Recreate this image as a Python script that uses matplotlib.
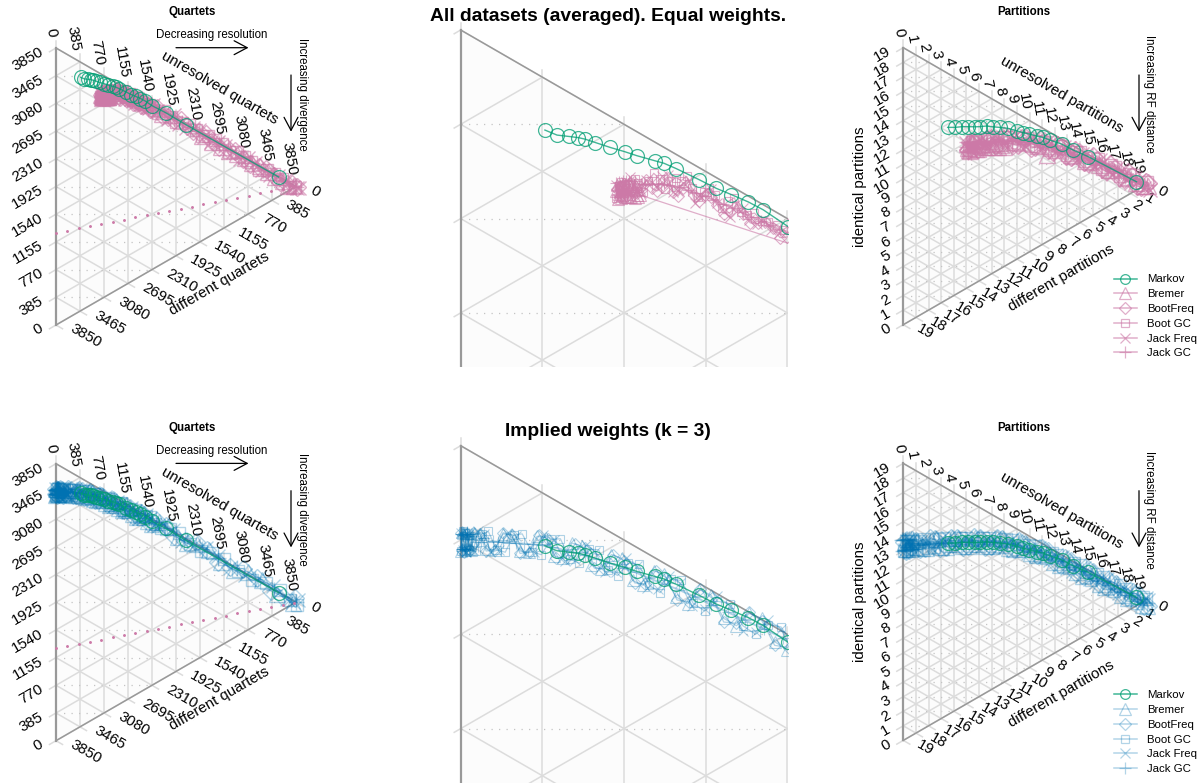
import numpy as np
import matplotlib
matplotlib.use('Agg')
import matplotlib.pyplot as plt
from matplotlib.lines import Line2D

plt.rcParams['font.family'] = ['Liberation Sans', 'DejaVu Sans']

FIG_W, FIG_H = 1203, 784
QUARTET_TOTAL = 3850
PARTITION_TOTAL = 19
SQ3 = np.sqrt(3) / 2

GREEN = '#009E73'
PINK = '#CC79A7'
BLUE = '#0072B2'
GRID = '#DCDCDC'
EDGE = '#999999'

LEGEND_NAMES = ['Markov', 'Bremer', 'BootFreq', 'Boot GC', 'Jack Freq', 'Jack GC']

# Markov is the same under either weighting
markov_q_u = [397, 454, 509, 555, 588, 635, 705, 774, 830, 916, 958, 1015, 1125, 1205, 1276, 1356, 1426, 1544, 1760, 2085, 3572]
markov_q_id = [3243, 3194, 3161, 3133, 3110, 3073, 3018, 2966, 2922, 2858, 2827, 2777, 2676, 2601, 2540, 2470, 2403, 2275, 2071, 1742, 271]
markov_p_u = [3.51, 4.09, 4.62, 5.15, 5.67, 6.07, 6.60, 7.07, 7.65, 8.31, 8.97, 9.50, 9.98, 10.56, 11.08, 11.61, 12.54, 13.46, 14.65, 18.47]
markov_p_id = [11.78, 11.49, 11.27, 11.01, 10.74, 10.55, 10.33, 10.04, 9.71, 9.31, 8.82, 8.42, 8.09, 7.66, 7.31, 6.86, 6.12, 5.25, 4.20, 0.57]

# dotted reference line on the quartet plots
dots_u = [0, 182, 364, 546, 728, 910, 1092, 1274, 1456, 1638, 1820, 2002, 2184, 2366, 2548, 2730, 2912, 3094, 3276, 3458, 3640, 3822]
dots_id = [1283, 1222, 1162, 1101, 1040, 980, 919, 858, 798, 737, 676, 616, 555, 494, 434, 373, 312, 252, 191, 130, 70, 9]

# Quartets, equal weights
qe_bremer_u = [730, 745, 760, 770, 785, 800, 815, 830, 845, 1700, 2350, 2900, 3400, 3820,
               735, 740, 750, 755, 765, 775, 780, 790, 795, 805, 810, 820, 825, 835, 840,
               2500, 2650, 2770, 3030, 3150, 3270, 3520, 3650, 3730]
qe_bremer_id = [2826, 2808, 2795, 2815, 2780, 2770, 2790, 2760, 2754, 2085, 1455, 930, 425, 20,
                2850, 2790, 2840, 2785, 2835, 2780, 2830, 2775, 2825, 2765, 2815, 2755, 2800, 2750, 2780,
                1300, 1150, 1030, 810, 680, 570, 300, 180, 70]
qe_bootfreq_u = [760, 800, 850, 900, 950, 1000, 1050, 1100, 1150, 1210, 1270, 1330, 1400, 1470, 1540, 1700, 1900, 2100, 2300, 2500, 2750, 3000, 3250, 3500, 3700, 3860,
                 735, 750, 770, 785, 815, 830, 875, 925, 975, 1025, 1075, 1125, 1180, 1240, 1300, 1365, 1435, 1505,
                 1620, 1800, 2000, 2200, 2400, 2620, 2870, 3120, 3370, 3600, 3780]
qe_bootfreq_id = [2805, 2790, 2770, 2755, 2735, 2690, 2680, 2625, 2600, 2530, 2470, 2435, 2360, 2305, 2235, 2075, 1900, 1710, 1530, 1310, 1090, 805, 565, 315, 115, -15,
                  2835, 2795, 2835, 2780, 2820, 2770, 2800, 2730, 2760, 2660, 2670, 2590, 2580, 2480, 2480, 2380, 2350, 2250,
                  2210, 1990, 1850, 1590, 1450, 1170, 980, 680, 480, 190, 70]
qe_bootgc_u = [745, 790, 835, 885, 940, 990, 1040, 1090, 1145, 1200, 1260, 1320, 1385, 1450, 1520, 1640, 1840, 2030, 2240, 2440, 2660, 2900, 3130, 3380, 3620, 3840,
               730, 755, 770, 805, 820, 860, 910, 965, 1015, 1065, 1120, 1170, 1230, 1290, 1350, 1420, 1490,
               1580, 1740, 1930, 2130, 2340, 2550, 2780, 3020, 3260, 3500, 3740]
qe_bootgc_id = [2840, 2825, 2808, 2790, 2770, 2740, 2715, 2660, 2615, 2575, 2520, 2445, 2410, 2340, 2275, 2130, 1965, 1790, 1590, 1410, 1190, 950, 695, 465, 215, 5,
                2800, 2850, 2785, 2770, 2830, 2760, 2810, 2720, 2740, 2720, 2610, 2620, 2510, 2520, 2420, 2360, 2310,
                2200, 2110, 1860, 1720, 1450, 1300, 1010, 830, 530, 350, 50]
qe_jackfreq_u = [740, 780, 825, 875, 925, 975, 1025, 1075, 1130, 1180, 1240, 1300, 1360, 1430, 1500, 1620, 1800, 1980, 2200, 2380, 2600, 2840, 3080, 3300, 3560, 3810, 3900,
                 733, 760, 800, 850, 900, 950, 1000, 1050, 1105, 1155, 1210, 1270, 1330, 1395, 1465,
                 1560, 1710, 1890, 2090, 2290, 2490, 2720, 2960, 3190, 3430, 3680, 3860]
qe_jackfreq_id = [2790, 2840, 2775, 2800, 2745, 2770, 2680, 2700, 2600, 2610, 2490, 2490, 2395, 2360, 2270, 2170, 1965, 1810, 1640, 1420, 1250, 985, 780, 510, 290, 15, -40,
                  2850, 2810, 2850, 2760, 2780, 2780, 2690, 2700, 2590, 2620, 2540, 2450, 2460, 2360, 2300,
                  2280, 2090, 1970, 1690, 1560, 1300, 1130, 830, 660, 370, 170, -20]
qe_jackgc_u = [735, 748, 760, 775, 790, 810, 850, 900, 960, 1030, 1110, 1190, 1280, 1370, 1460, 1550, 1700, 1900, 2150, 2450, 2800, 3150, 3500, 3800,
               733, 740, 745, 752, 757, 765, 770, 780, 785, 795, 800, 820, 830, 870, 930, 995, 1070, 1150, 1235, 1325, 1415, 1505,
               1620, 1800, 2020, 2300, 2620, 2970, 3320, 3650, 3850]
qe_jackgc_id = [2831, 2800, 2840, 2790, 2825, 2785, 2795, 2770, 2740, 2693, 2629, 2561, 2484, 2402, 2322, 2242, 2098, 1919, 1677, 1378, 1029, 680, 331, 32,
                2860, 2805, 2855, 2840, 2790, 2850, 2795, 2845, 2785, 2835, 2780, 2825, 2775, 2785, 2755, 2717, 2660, 2596, 2522, 2443, 2362, 2282,
                2172, 2010, 1800, 1520, 1200, 850, 500, 170, 0]

# Quartets, implied weights
qi_bremer_u = [5, 40, 90, 160, 240, 320, 400, 480, 570, 660, 760, 860, 960, 1070, 1180, 1300, 1420, 1540, 1800, 2100, 2450, 2850, 3300, 3800,
               0, 10, 20, 30, 50, 65, 125, 200, 280, 360, 440, 525, 615, 710, 810, 910, 1015, 1125, 1240, 1360, 1480, 1650, 1950, 2270, 2650, 3080, 3550]
qi_bremer_id = [3495, 3410, 3445, 3345, 3365, 3255, 3275, 3150, 3155, 3015, 3010, 2850, 2845, 2670, 2650, 2465, 2435, 2245, 2075, 1695, 1430, 950, 590, 15,
                3420, 3490, 3415, 3480, 3400, 3460, 3365, 3390, 3280, 3300, 3180, 3190, 3055, 3050, 2895, 2885, 2725, 2700, 2525, 2485, 2310, 2220, 1850, 1595, 1155, 805, 270]
qi_bootfreq_u = [15, 60, 120, 200, 280, 370, 450, 540, 630, 720, 820, 920, 1020, 1130, 1240, 1360, 1480, 1620, 1900, 2250, 2600, 3000, 3450, 3840,
                 0, 5, 30, 45, 90, 160, 240, 325, 410, 495, 585, 675, 770, 870, 970, 1075, 1185, 1300, 1420, 1550, 1760, 2070, 2420, 2800, 3220, 3650]
qi_bootfreq_id = [3410, 3465, 3360, 3395, 3270, 3300, 3165, 3180, 3035, 3045, 2880, 2880, 2710, 2700, 2510, 2490, 2295, 2250, 1890, 1630, 1190, 890, 355, 60,
                  3495, 3420, 3475, 3400, 3445, 3345, 3365, 3255, 3265, 3145, 3140, 3010, 2995, 2850, 2825, 2675, 2635, 2475, 2425, 2250, 2105, 1735, 1445, 1010, 655, 175]
qi_bootgc_u = [10, 70, 130, 210, 290, 380, 470, 560, 650, 740, 840, 940, 1040, 1150, 1270, 1390, 1510, 1680, 1980, 2320, 2700, 3150, 3600, 3860,
               0, 25, 40, 100, 170, 250, 335, 425, 515, 605, 695, 790, 890, 990, 1095, 1210, 1330, 1450, 1590, 1830, 2150, 2500, 2920, 3370, 3750]
qi_bootgc_id = [3495, 3385, 3435, 3310, 3345, 3215, 3235, 3090, 3100, 2950, 2945, 2780, 2780, 2600, 2570, 2385, 2355, 2115, 1895, 1475, 1180, 655, 295, -40,
                3420, 3480, 3405, 3440, 3340, 3360, 3250, 3255, 3130, 3125, 2995, 2975, 2835, 2810, 2660, 2610, 2450, 2395, 2215, 2030, 1660, 1365, 895, 510, 80]
qi_jackfreq_u = [25, 80, 140, 220, 300, 390, 490, 590, 680, 780, 880, 980, 1090, 1210, 1330, 1450, 1570, 1720, 2030, 2400, 2800, 3250, 3700, 3880,
                 0, 10, 45, 60, 110, 180, 260, 345, 440, 540, 635, 730, 830, 930, 1035, 1150, 1270, 1390, 1510, 1640, 1880, 2200, 2600, 3030, 3480, 3800]
qi_jackfreq_id = [3405, 3460, 3345, 3385, 3260, 3290, 3135, 3150, 2995, 3000, 2830, 2830, 2650, 2630, 2430, 2415, 2215, 2155, 1760, 1480, 1000, 640, 115, 15,
                  3495, 3420, 3470, 3395, 3435, 3335, 3350, 3245, 3245, 3115, 3100, 2970, 2945, 2800, 2770, 2610, 2560, 2395, 2345, 2160, 1985, 1605, 1268, 782, 405, 25]
qi_jackgc_u = [0, 5, 10, 15, 20, 25, 35, 45, 60, 80, 110, 150, 200, 260, 340, 430, 530, 640, 760, 890, 1030, 1180, 1340, 1520, 1750, 2100, 2600, 3200, 3850,
               2, 4, 7, 8, 12, 13, 17, 18, 22, 23, 28, 30, 32, 38, 40, 42, 48, 50, 55,
               70, 95, 130, 175, 230, 300, 385, 480, 585, 700, 825, 960, 1105, 1260, 1430, 1630, 1920, 2350, 2900, 3500]
qi_jackgc_id = [3490, 3425, 3480, 3420, 3470, 3415, 3465, 3410, 3450, 3400, 3420, 3385, 3356, 3322, 3277, 3221, 3150, 3068, 2972, 2863, 2746, 2611, 2467, 2305, 2084, 1735, 1238, 646, 7,
                3490, 3420, 3485, 3425, 3480, 3420, 3485, 3415, 3480, 3415, 3475, 3410, 3480, 3405, 3470, 3400, 3465, 3405, 3460,
                3423, 3411, 3393, 3370, 3339, 3300, 3251, 3186, 3110, 3021, 2920, 2805, 2680, 2540, 2386, 2200, 1915, 1487, 945, 350]

# Partitions, equal weights
pe_bremer_u = [5.1, 5.3, 5.6, 5.9, 6.2, 6.6, 7.0, 7.5, 8.0, 11.35, 13.3, 15.5, 17.8, 19.1,
               5.05, 5.2, 5.45, 5.75, 6.05, 6.4, 6.8, 7.2, 7.75, 14.4, 16.6, 18.4, 19.4]
pe_bremer_id = [9.6, 9.25, 9.5, 9.1, 9.3, 8.9, 8.9, 8.45, 8.2, 5.97, 5.0, 3.2, 1.2, -0.05,
                9.9, 9.35, 9.75, 9.2, 9.55, 9.0, 9.2, 8.6, 8.45, 4.0, 2.3, 0.55, -0.2]
pe_bootfreq_u = [5.3, 5.9, 6.6, 7.3, 8.0, 8.7, 9.4, 10.1, 10.8, 11.5, 12.2, 12.9, 13.6, 14.3, 15.0, 15.7, 16.4, 17.1, 17.8, 18.5, 19.2,
                 5.1, 5.6, 6.25, 6.95, 7.65, 8.35, 9.05, 9.75, 10.45, 11.15, 11.85, 12.55, 13.25, 13.95, 14.65, 15.35, 16.05, 16.75, 17.45, 18.15, 18.85, 19.4]
pe_bootfreq_id = [9.85, 9.1, 9.45, 8.65, 8.95, 8.0, 8.1, 7.1, 7.35, 6.2, 6.25, 5.1, 5.2, 4.0, 4.05, 2.8, 2.85, 1.55, 1.55, 0.25, 0.2,
                  9.4, 9.75, 9.05, 9.35, 8.5, 8.7, 7.8, 7.9, 6.95, 7.0, 5.95, 5.95, 4.9, 4.85, 3.75, 3.65, 2.55, 2.4, 1.3, 1.1, 0.02, 0.0]
pe_bootgc_u = [5.2, 5.7, 6.3, 7.0, 7.7, 8.4, 9.1, 9.8, 10.5, 11.2, 11.9, 12.6, 13.3, 14.0, 14.7, 15.4, 16.1, 16.8, 17.5, 18.2, 18.9,
               5.45, 6.0, 6.65, 7.35, 8.05, 8.75, 9.45, 10.15, 10.85, 11.55, 12.25, 12.95, 13.65, 14.35, 15.05, 15.75, 16.45, 17.15, 17.85, 18.55, 19.3]
pe_bootgc_id = [9.4, 9.75, 9.05, 9.35, 8.5, 8.7, 7.75, 7.9, 6.9, 6.95, 5.9, 5.95, 4.8, 4.85, 3.7, 3.65, 2.45, 2.45, 1.2, 1.15, -0.1,
                9.8, 9.15, 9.4, 8.65, 8.85, 8.0, 8.1, 7.15, 7.2, 6.22, 6.15, 5.15, 5.05, 4.05, 3.9, 2.8, 2.7, 1.6, 1.4, 0.3, 0.12]
pe_jackfreq_u = [5.0, 5.5, 6.1, 6.7, 7.4, 8.1, 8.8, 9.6, 10.3, 11.0, 11.7, 12.4, 13.1, 13.8, 14.5, 15.2, 15.9, 16.6, 17.3, 18.0, 18.7, 19.5,
                 5.25, 5.8, 6.4, 7.05, 7.75, 8.45, 9.2, 9.95, 10.65, 11.35, 12.05, 12.75, 13.45, 14.15, 14.85, 15.55, 16.25, 16.95, 17.65, 18.35, 19.1]
pe_jackfreq_id = [9.95, 9.3, 9.65, 8.9, 9.2, 8.3, 8.5, 7.45, 7.6, 6.6, 6.6, 5.55, 5.55, 4.45, 4.4, 3.3, 3.2, 2.05, 1.9, 0.75, 0.6, -0.5,
                  9.35, 9.7, 9.0, 9.3, 8.45, 8.65, 7.75, 7.75, 6.85, 6.85, 5.8, 5.8, 4.75, 4.65, 3.6, 3.5, 2.4, 2.25, 1.1, 0.9, -0.2]
pe_jackgc_u = [5.02, 5.1, 5.2, 5.35, 5.5, 5.7, 6.0, 6.4, 6.9, 7.5, 8.2, 9.0, 9.9, 10.8, 11.7, 12.6, 13.5, 14.4, 15.3, 16.2, 17.1, 18.0, 18.9,
               5.05, 5.15, 5.25, 5.3, 5.4, 5.45, 5.6, 5.8, 6.2, 6.65, 7.2, 7.85, 8.6, 9.45, 10.35, 11.25, 12.15, 13.05, 13.95, 14.85, 15.75, 16.65, 17.55, 18.45, 19.3]
pe_jackgc_id = [9.7, 9.3, 9.85, 9.2, 9.7, 9.25, 9.38, 9.24, 9.09, 8.84, 8.5, 8.08, 7.55, 7.0, 6.35, 5.65, 4.95, 4.2, 3.45, 2.65, 1.85, 1.0, 0.2,
                10.0, 9.35, 9.9, 9.3, 9.8, 9.3, 9.75, 9.2, 9.3, 9.18, 8.97, 8.67, 8.33, 7.82, 7.28, 6.67, 6.0, 5.3, 4.58, 3.85, 3.05, 2.25, 1.45, 0.6, -0.1]

# Partitions, implied weights
pi_bremer_u = [0.1, 0.5, 1.1, 1.8, 2.6, 3.4, 4.3, 5.2, 6.1, 7.0, 7.9, 8.8, 9.7, 10.6, 11.5, 12.4, 13.3, 14.2, 15.1, 16.0, 16.9, 17.8, 18.7, 19.3,
               0.3, 0.8, 1.45, 2.2, 3.0, 3.85, 4.75, 5.65, 6.55, 7.45, 8.35, 9.25, 10.15, 11.05, 11.95, 12.85, 13.75, 14.65, 15.55, 16.45, 17.35, 18.25, 19.0]
pi_bremer_id = [13.55, 12.9, 13.1, 12.3, 12.5, 11.6, 11.75, 10.75, 10.85, 9.85, 9.85, 8.75, 8.65, 7.4, 7.2, 5.85, 5.6, 4.2, 3.9, 2.55, 2.25, 0.85, 0.55, -0.4,
                12.95, 13.28, 12.45, 12.67, 11.78, 11.93, 10.98, 11.08, 10.08, 10.13, 9.05, 8.98, 7.76, 7.63, 6.28, 6.03, 4.65, 4.38, 2.98, 2.68, 1.3, 1.0, -0.2]
pi_bootfreq_u = [0.2, 0.7, 1.3, 2.1, 2.9, 3.8, 4.7, 5.6, 6.5, 7.4, 8.3, 9.2, 10.1, 11.0, 11.9, 12.8, 13.7, 14.6, 15.5, 16.4, 17.3, 18.2, 19.1,
                 0.05, 0.45, 1.0, 1.7, 2.5, 3.35, 4.25, 5.15, 6.05, 6.95, 7.85, 8.75, 9.65, 10.55, 11.45, 12.35, 13.25, 14.15, 15.05, 15.95, 16.85, 17.75, 18.65, 19.4]
pi_bootfreq_id = [12.9, 13.4, 12.45, 12.8, 11.75, 12.0, 10.95, 11.15, 10.05, 10.2, 9.05, 9.1, 7.75, 7.7, 6.3, 6.1, 4.65, 4.45, 3.0, 2.75, 1.35, 1.05, -0.3,
                  13.6, 12.85, 13.2, 12.33, 12.55, 11.6, 11.75, 10.78, 10.88, 9.85, 9.9, 8.78, 8.68, 7.45, 7.28, 5.9, 5.65, 4.28, 4.0, 2.6, 2.32, 0.93, 0.65, -0.5]
pi_bootgc_u = [0.05, 0.4, 1.0, 1.6, 2.4, 3.2, 4.1, 5.0, 5.9, 6.8, 7.7, 8.6, 9.5, 10.4, 11.3, 12.2, 13.1, 14.0, 14.9, 15.8, 16.7, 17.6, 18.5, 19.2,
               0.2, 0.65, 1.3, 2.0, 2.8, 3.65, 4.55, 5.45, 6.35, 7.25, 8.15, 9.05, 9.95, 10.85, 11.75, 12.65, 13.55, 14.45, 15.35, 16.25, 17.15, 18.05, 18.95]
pi_bootgc_id = [13.0, 13.5, 12.6, 13.0, 12.05, 12.25, 11.3, 11.4, 10.4, 10.5, 9.4, 9.45, 8.25, 8.15, 6.85, 6.6, 5.25, 5.0, 3.55, 3.3, 1.9, 1.6, 0.2, 0.1,
                13.55, 12.8, 13.05, 12.22, 12.4, 11.5, 11.6, 10.63, 10.72, 9.7, 9.72, 8.58, 8.45, 7.22, 7.0, 5.63, 5.38, 3.98, 3.72, 2.33, 2.05, 0.65, 0.35]
pi_jackfreq_u = [0.3, 0.8, 1.5, 2.3, 3.1, 4.0, 4.9, 5.8, 6.7, 7.6, 8.5, 9.4, 10.3, 11.2, 12.1, 13.0, 13.9, 14.8, 15.7, 16.6, 17.5, 18.4, 19.4,
                 0.1, 0.55, 1.2, 1.95, 2.75, 3.55, 4.45, 5.35, 6.25, 7.15, 8.05, 8.95, 9.85, 10.75, 11.65, 12.55, 13.45, 14.35, 15.25, 16.15, 17.05, 17.95, 18.85, 19.2]
pi_jackfreq_id = [13.55, 12.7, 13.0, 12.05, 12.3, 11.3, 11.45, 10.45, 10.55, 9.5, 9.5, 8.3, 8.2, 6.95, 6.65, 5.35, 5.05, 3.7, 3.35, 2.0, 1.7, 0.35, -0.05,
                  12.98, 13.38, 12.55, 12.78, 11.88, 12.08, 11.1, 11.22, 10.22, 10.3, 9.22, 9.2, 7.96, 7.85, 6.52, 6.28, 4.9, 4.63, 3.23, 2.98, 1.58, 1.3, -0.08, 0.15]
pi_jackgc_u = [-0.1, 0.05, 0.15, 0.25, 0.35, 0.45, 0.55, 0.7, 0.9, 1.2, 1.7, 2.4, 3.3, 4.3, 5.4, 6.5, 7.6, 8.7, 9.8, 10.9, 12.0, 13.1, 14.2, 15.3, 16.4, 17.5, 18.6, 19.1,
               -0.05, 0.0, 0.1, 0.12, 0.2, 0.22, 0.3, 0.32, 0.4, 0.42, 0.5, 0.6, 0.65, 0.75, 0.8, 1.0, 1.45, 2.05, 2.85, 3.8, 4.85, 5.95, 7.05, 8.15, 9.25, 10.35, 11.45, 12.55, 13.65, 14.75, 15.85, 16.95, 18.05, 19.3]
pi_jackgc_id = [13.8, 13.0, 13.7, 12.9, 13.6, 12.85, 13.4, 12.9, 13.1, 12.83, 12.61, 12.31, 11.92, 11.45, 10.93, 10.37, 9.78, 9.1, 8.3, 7.47, 6.5, 5.51, 4.5, 3.5, 2.46, 1.43, 0.4, -0.05,
                13.0, 13.75, 13.0, 13.7, 12.95, 13.7, 12.9, 13.65, 12.9, 13.6, 12.85, 13.5, 12.8, 13.4, 12.75, 12.91, 12.72, 12.45, 12.1, 11.67, 11.2, 10.66, 10.08, 9.45, 8.72, 7.9, 7.0, 6.05, 5.05, 4.0, 3.0, 1.95, 0.95, -0.2]

SERIES_STYLE = [('^', 8.5), ('D', 6.4), ('s', 6), ('x', 7), ('+', 8.5)]

qe_series = [(qe_bremer_u, qe_bremer_id), (qe_bootfreq_u, qe_bootfreq_id), (qe_bootgc_u, qe_bootgc_id),
             (qe_jackfreq_u, qe_jackfreq_id), (qe_jackgc_u, qe_jackgc_id)]
qi_series = [(qi_bremer_u, qi_bremer_id), (qi_bootfreq_u, qi_bootfreq_id), (qi_bootgc_u, qi_bootgc_id),
             (qi_jackfreq_u, qi_jackfreq_id), (qi_jackgc_u, qi_jackgc_id)]
pe_series = [(pe_bremer_u, pe_bremer_id), (pe_bootfreq_u, pe_bootfreq_id), (pe_bootgc_u, pe_bootgc_id),
             (pe_jackfreq_u, pe_jackfreq_id), (pe_jackgc_u, pe_jackgc_id)]
pi_series = [(pi_bremer_u, pi_bremer_id), (pi_bootfreq_u, pi_bootfreq_id), (pi_bootgc_u, pi_bootgc_id),
             (pi_jackfreq_u, pi_jackfreq_id), (pi_jackgc_u, pi_jackgc_id)]


def to_xy(unresolved, identical, total):
    c = np.asarray(unresolved, dtype=float) / total
    a = np.asarray(identical, dtype=float) / total
    return c * SQ3, a + c / 2


def make_axes(fig, vx, vy, side, box):
    left, top, right, bottom = box
    ax = fig.add_axes([left / FIG_W, 1 - bottom / FIG_H, (right - left) / FIG_W, (bottom - top) / FIG_H])
    ax.set_xlim((left - vx) / side, (right - vx) / side)
    ax.set_ylim(1 - (bottom - vy) / side, 1 - (top - vy) / side)
    ax.axis('off')
    ax.patch.set_alpha(0)
    return ax


def draw_frame(ax, n, side):
    tick = 7.5 / side
    ax.fill([0, 0, SQ3], [0, 1, 0.5], color='#FCFCFC', lw=0, zorder=1)
    for k in range(n + 1):
        f = k / n
        # each family runs past one edge to make the tick
        ax.plot([f * SQ3, f * SQ3], [f / 2, 1 - f / 2 + tick], color=GRID, lw=1.1, zorder=2)
        ax.plot([-tick * SQ3, (1 - f) * SQ3], [f - tick / 2, f + (1 - f) / 2], color=GRID, lw=1.1, zorder=2)
        ax.plot([0, (1 - f + tick) * SQ3], [1 - f, (1 - f - tick) / 2], color=GRID, lw=1.1, zorder=2)
        x_end = (1 - f) * SQ3 * 2 if f >= 0.5 else f * SQ3 * 2
        ax.plot([0, x_end], [f, f], color='#C4C4C4', lw=0.9, ls=(0, (1, 5)), zorder=2)
    ax.plot([0, SQ3, 0], [1, 0.5, 0], color=EDGE, lw=1.1, zorder=3)
    ax.plot([0, 0], [0, 1], color=EDGE, lw=1.6, zorder=3)


def draw_series(ax, total, series, color, alpha, markov_u, markov_id, mew=0.8, scale=1.0, dots=False):
    for (u, ident), (marker, size) in zip(series, SERIES_STYLE):
        order = np.argsort(u)
        x, y = to_xy(np.array(u)[order], np.array(ident)[order], total)
        width = 1.4 if marker == '+' else 0.9
        ax.plot(x, y, color=color, alpha=alpha, lw=width, marker=marker, ms=size * scale, mew=mew, mfc='none', zorder=4)
    x, y = to_xy(markov_u, markov_id, total)
    ax.plot(x, y, color=GREEN, alpha=0.75, lw=1.0, marker='o', ms=10, mew=0.9, mfc='none', zorder=5)
    if dots:
        x, y = to_xy(dots_u, dots_id, total)
        ax.plot(x, y, ls='none', marker='o', ms=2.1, mew=0, color=PINK, zorder=5)


def draw_labels(ax, n, step):
    fs = 10.8
    for k in range(n + 1):
        f = k / n
        text = str(k * step)
        ax.annotate(text, (0, f), xytext=(-14 * .72, -2.7 * .72), textcoords='offset points', zorder=1.5,
                    rotation=30, rotation_mode='anchor', ha='right', va='center', fontsize=fs, annotation_clip=False)
        ax.annotate(text, (f * SQ3, 1 - f / 2), xytext=(-4 * .72, 11 * .72), textcoords='offset points', zorder=1.5,
                    rotation=-80, rotation_mode='anchor', ha='right', va='center', fontsize=fs, annotation_clip=False)
        ax.annotate(text, ((1 - f) * SQ3, (1 - f) / 2), xytext=(15 * .72, -3 * .72), textcoords='offset points', zorder=1.5,
                    rotation=-30, rotation_mode='anchor', ha='left', va='center', fontsize=fs, annotation_clip=False)


def draw_legend(ax, color, alpha, left, top):
    handles = [Line2D([], [], color=GREEN, alpha=0.75, lw=1.1, marker='o', ms=7, mew=0.9, mfc='none')]
    for marker, size in SERIES_STYLE:
        handles.append(Line2D([], [], color=color, alpha=alpha, lw=1.1, marker=marker, ms=size, mew=0.9, mfc='none'))
    ax.legend(handles, LEGEND_NAMES, loc='upper left', frameon=False, fontsize=8.2,
              bbox_to_anchor=(left / FIG_W, 1 - top / FIG_H), bbox_transform=ax.figure.transFigure,
              borderpad=0, borderaxespad=0, handlelength=2.0, handletextpad=0.9, labelspacing=0.42)


def main():
    fig = plt.figure(figsize=(FIG_W / 100, FIG_H / 100), dpi=100)
    overlay = fig.add_axes([0, 0, 1, 1])
    overlay.set_xlim(0, FIG_W)
    overlay.set_ylim(FIG_H, 0)
    overlay.axis('off')

    rows = [
        (0.0, qe_series, pe_series, PINK, 0.6, 'All datasets (averaged). Equal weights.', 16),
        (415.7, qi_series, pi_series, BLUE, 0.3, 'Implied weights (k = 3)', 431.7),
    ]
    for dy, q_series, p_series, color, alpha, title, title_y in rows:
        # left: whole quartet triangle
        ax = make_axes(fig, 56, 48 + dy, 277, (0, dy, 340, dy + 368))
        draw_frame(ax, 10, 277)
        draw_labels(ax, 10, 385)
        draw_series(ax, QUARTET_TOTAL, q_series, color, alpha, markov_q_u, markov_q_id, mew=1.0, scale=1.4, dots=True)

        # middle: close-up of the same quartets
        ax = make_axes(fig, 460.7, 30 + dy, 943, (452, 20 + dy, 787.5, 367 + dy))
        draw_frame(ax, 10, 943)
        draw_series(ax, QUARTET_TOTAL, q_series, color, alpha, markov_q_u, markov_q_id)

        # right: partitions
        ax = make_axes(fig, 903.3, 47.7 + dy, 277, (845, dy, 1203, dy + 368))
        draw_frame(ax, PARTITION_TOTAL, 277)
        draw_labels(ax, PARTITION_TOTAL, 1)
        draw_series(ax, PARTITION_TOTAL, p_series, color, alpha, markov_p_u, markov_p_id, mew=1.0, scale=1.4)
        draw_legend(ax, color, alpha, 1114, 274.5 + dy)

        overlay.text(608, title_y, title, fontsize=13.9, fontweight='bold', ha='center', va='center')
        overlay.text(192, 12.3 + dy, 'Quartets', fontsize=8.3, fontweight='bold', ha='center', va='center')
        overlay.text(1024, 12.3 + dy, 'Partitions', fontsize=8.3, fontweight='bold', ha='center', va='center')
        overlay.text(212, 35 + dy, 'Decreasing resolution', fontsize=8.3, ha='center', va='center')
        overlay.text(301.7, 94 + dy, 'Increasing divergence', fontsize=8.3, rotation=-90, ha='center', va='center')
        overlay.text(1149.3, 94 + dy, 'Increasing RF distance', fontsize=8.3, rotation=-90, ha='center', va='center')

        head = dict(arrowstyle='->,head_length=0.94,head_width=0.5', mutation_scale=10, color='black',
                    lw=0.9, shrinkA=0, shrinkB=0)
        overlay.annotate('', xy=(248.5, 47.7 + dy), xytext=(176, 47.7 + dy), arrowprops=head)
        overlay.annotate('', xy=(291, 131.7 + dy), xytext=(291, 75 + dy), arrowprops=head)
        overlay.annotate('', xy=(1139, 131.7 + dy), xytext=(1139, 75 + dy), arrowprops=head)

        overlay.text(219.3, 88.3 + dy, 'unresolved quartets', fontsize=10.8, rotation=-30, ha='center', va='center')
        overlay.text(219.3, 283.3 + dy, 'different quartets', fontsize=10.8, rotation=30, ha='center', va='center')
        overlay.text(1061.7, 95 + dy, 'unresolved partitions', fontsize=10.8, rotation=-30, ha='center', va='center')
        overlay.text(1061.7, 278.3 + dy, 'different partitions', fontsize=10.8, rotation=30, ha='center', va='center')
        overlay.text(860, 186.5 + dy, 'identical partitions', fontsize=10.8, rotation=90, ha='center', va='center')

    fig.savefig('out.png', dpi=100)


if __name__ == '__main__':
    main()
